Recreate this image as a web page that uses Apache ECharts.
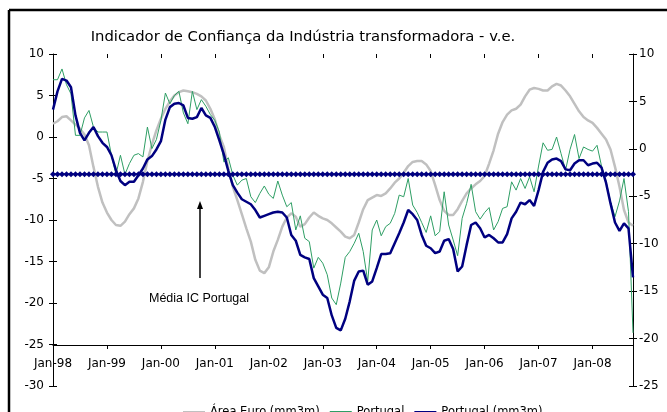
<!DOCTYPE html>
<html>
<head>
<meta charset="utf-8">
<script src="https://cdn.jsdelivr.net/npm/echarts@6/dist/echarts.min.js"></script>
<style>
  html, body { margin: 0; padding: 0; background: #fff; overflow: hidden; }
  #chart { width: 667px; height: 412px; }
</style>
</head>
<body>
<div id="chart"></div>
<script>
// months Jan-98 .. Oct-08
const years = ['98', '99', '00', '01', '02', '03', '04', '05', '06', '07', '08'];
const monthNames = ['Jan', 'Feb', 'Mar', 'Apr', 'May', 'Jun', 'Jul', 'Aug', 'Sep', 'Oct', 'Nov', 'Dec'];
const months = [];
years.forEach(y => monthNames.forEach(m => months.push(m + '-' + y)));
months.length = 130;

// Área Euro (mm3m)
const areaEuro = [
  1.6, 1.9, 2.4, 2.5, 2.0, 1.5, 1.0, 0.3, -1.0, -3.6, -6.0, -7.9,
  -9.1, -10.0, -10.6, -10.7, -10.2, -9.3, -8.6, -7.4, -5.4, -2.9, -0.9, 0.8,
  2.2, 3.4, 4.3, 5.0, 5.4, 5.6, 5.5, 5.4, 5.2, 4.9, 4.4, 3.4,
  2.1, 0.2, -1.2, -3.8, -6.0, -7.6, -9.3, -11.0, -12.6, -14.8, -16.1, -16.4,
  -15.7, -13.8, -12.4, -10.8, -9.7, -9.2, -9.6, -10.8, -10.5, -9.7, -9.1, -9.5,
  -9.8, -10.0, -10.4, -10.9, -11.4, -12.0, -12.2, -11.8, -10.3, -8.7, -7.6, -7.3,
  -7.0, -7.1, -6.8, -6.2, -5.5, -5.0, -4.3, -3.5, -3.0, -2.9, -2.9, -3.3,
  -4.1, -5.8, -7.6, -8.9, -9.4, -9.4, -8.7, -7.7, -6.8, -6.2, -5.7, -5.3,
  -4.7, -3.2, -1.6, 0.4, 1.8, 2.7, 3.2, 3.4, 3.9, 4.9, 5.7, 5.9,
  5.8, 5.6, 5.6, 6.1, 6.4, 6.2, 5.6, 4.9, 4.0, 3.1, 2.4, 2.0,
  1.7, 1.1, 0.4, -0.3, -1.5, -3.6, -6.0, -8.8, -10.3, -10.7
];

// Portugal (monthly)
const portugal = [
  6.9, 6.9, 8.2, 6.3, 5.2, 0.2, 0.2, 2.3, 3.2, 1.2, 0.6, 0.6,
  0.6, -2.2, -4.5, -2.2, -4.5, -3.2, -2.2, -2.0, -2.4, 1.2, -1.4, -0.3,
  2.0, 5.3, 4.0, 5.0, 5.5, 2.9, 1.6, 5.5, 3.3, 4.5, 3.7, 2.7,
  2.0, 0.6, -3.0, -2.5, -4.6, -5.8, -5.2, -5.0, -7.2, -7.9, -6.8, -5.9,
  -6.9, -7.4, -5.3, -7.0, -8.4, -7.9, -11.2, -9.5, -12.2, -12.6, -15.8, -14.5,
  -15.2, -16.6, -19.4, -20.2, -17.6, -14.5, -13.8, -12.8, -11.6, -13.8, -17.4, -11.2,
  -10.0, -11.9, -10.8, -10.4, -9.2, -7.0, -7.2, -5.0, -8.2, -9.1, -10.3, -11.5,
  -9.5, -11.9, -11.4, -6.6, -10.6, -12.4, -14.3, -9.8, -8.0, -5.7, -9.0, -9.9,
  -9.1, -8.5, -11.2, -10.2, -8.6, -8.4, -5.4, -6.4, -5.0, -6.2, -4.8, -6.6,
  -3.5, -0.7, -1.6, -1.5, 0.0, -2.0, -4.0, -1.5, 0.3, -2.6, -1.2, -1.5,
  -1.7, -1.0, -3.5, -5.3, -7.8, -9.6, -7.7, -5.0, -9.0, -23.6
];

// Portugal (mm3m)
const portugalMm3m = [
  3.3, 5.5, 7.0, 6.8, 6.0, 2.6, 0.5, -0.4, 0.5, 1.2, 0.1, -0.7,
  -1.2, -2.2, -4.0, -5.3, -5.8, -5.4, -5.4, -4.6, -3.8, -2.7, -2.3, -1.5,
  -0.5, 2.1, 3.6, 4.0, 4.1, 3.8, 2.3, 2.2, 2.4, 3.5, 2.6, 2.3,
  1.2, -0.4, -2.1, -4.1, -5.8, -6.7, -7.5, -7.8, -8.1, -8.8, -9.7, -9.5,
  -9.3, -9.1, -9.0, -9.1, -9.7, -11.8, -12.5, -14.2, -14.5, -14.7, -17.0, -18.0,
  -19.0, -19.4, -21.5, -23.0, -23.3, -21.9, -19.8, -17.3, -16.2, -16.1, -17.8, -17.4,
  -15.8, -14.1, -14.1, -14.0, -12.8, -11.6, -10.3, -8.8, -9.3, -10.0, -11.8, -13.1,
  -13.4, -14.0, -13.8, -12.5, -12.3, -13.5, -16.2, -15.6, -13.0, -10.6, -10.3, -11.0,
  -12.1, -11.8, -12.2, -12.7, -12.7, -11.7, -9.8, -9.0, -7.9, -8.1, -7.6, -8.3,
  -6.4, -4.2, -3.1, -2.7, -2.6, -2.9, -3.9, -4.0, -3.2, -2.8, -2.8, -3.4,
  -3.2, -3.1, -3.7, -5.5, -8.0, -10.3, -11.3, -10.4, -11.0, -16.9
];

// Média IC Portugal
const mediaIC = -4.5;
const media = months.map(() => mediaIC);

const leftTicks = { min: -30, max: 10, interval: 5 };
const rightTicks = { min: -25, max: 10, interval: 5 };

const axisFont = { fontFamily: 'DejaVu Sans', fontSize: 12, color: '#000' };
const blackLine = { show: true, lineStyle: { color: '#000', width: 1 } };

const chart = echarts.init(document.getElementById('chart'));
chart.setOption({
  animation: false,
  title: {
    text: 'Indicador de Confiança da Indústria transformadora - v.e.',
    left: 298,
    top: 25,
    textAlign: 'center',
    textStyle: { fontFamily: 'DejaVu Sans', fontSize: 14.8, fontWeight: 'normal', color: '#000' }
  },
  legend: {
    data: ['Área Euro (mm3m)', 'Portugal', 'Portugal (mm3m)'],
    left: 177,
    top: 401,
    itemWidth: 22,
    itemHeight: 8,
    itemGap: 9,
    itemStyle: { color: 'rgba(0,0,0,0)', borderWidth: 0 },
    textStyle: { fontFamily: 'DejaVu Sans', fontSize: 11.5, color: '#000' }
  },
  grid: [
    { left: 53, right: 34, top: 54, bottom: 26 },
    { left: 53, right: 34, top: 54, height: 291 }
  ],
  xAxis: [
    { gridIndex: 0, type: 'category', data: months, boundaryGap: false, show: false },
    {
      gridIndex: 1, type: 'category', data: months, boundaryGap: false,
      axisLine: blackLine,
      axisTick: { show: true, interval: 11, length: 4, lineStyle: { color: '#000' } },
      axisLabel: { interval: 11, margin: 13, ...axisFont },
      splitLine: { show: false }
    },
    {
      gridIndex: 1, type: 'category', data: months, boundaryGap: false,
      axisLine: { show: false },
      axisTick: { show: true, inside: true, interval: 11, length: 4, lineStyle: { color: '#000' } },
      axisLabel: { show: false },
      splitLine: { show: false }
    }
  ],
  yAxis: [
    {
      gridIndex: 0, type: 'value', position: 'left', ...leftTicks,
      axisLine: blackLine,
      axisTick: { show: true, length: 4, lineStyle: { color: '#000' } },
      axisLabel: { margin: 9, ...axisFont },
      splitLine: { show: false }
    },
    {
      gridIndex: 0, type: 'value', position: 'right', ...rightTicks,
      axisLine: blackLine,
      axisTick: { show: true, length: 4, lineStyle: { color: '#000' } },
      axisLabel: { margin: 6, ...axisFont },
      splitLine: { show: false }
    },
    {
      gridIndex: 0, type: 'value', position: 'left', ...leftTicks,
      axisLine: { show: false },
      axisTick: { show: true, inside: true, length: 4, lineStyle: { color: '#000' } },
      axisLabel: { show: false },
      splitLine: { show: false }
    },
    {
      gridIndex: 0, type: 'value', position: 'right', ...rightTicks,
      axisLine: { show: false },
      axisTick: { show: true, inside: true, length: 4, lineStyle: { color: '#000' } },
      axisLabel: { show: false },
      splitLine: { show: false }
    },
    { gridIndex: 1, type: 'value', min: 0, max: 1, show: false }
  ],
  series: [
    {
      name: 'Área Euro (mm3m)', type: 'line', data: areaEuro,
      xAxisIndex: 0, yAxisIndex: 0, symbol: 'none',
      lineStyle: { color: '#c0c0c0', width: 2.5 }, itemStyle: { color: '#c0c0c0' }
    },
    {
      name: 'Portugal', type: 'line', data: portugal,
      xAxisIndex: 0, yAxisIndex: 0, symbol: 'none',
      lineStyle: { color: '#2e9e64', width: 1 }, itemStyle: { color: '#2e9e64' }
    },
    {
      name: 'Portugal (mm3m)', type: 'line', data: portugalMm3m,
      xAxisIndex: 0, yAxisIndex: 0, symbol: 'none',
      lineStyle: { color: '#000080', width: 2.5 }, itemStyle: { color: '#000080' }
    },
    {
      name: 'Média IC Portugal', type: 'line', data: media,
      xAxisIndex: 0, yAxisIndex: 0, symbol: 'diamond', symbolSize: 6,
      showSymbol: true, showAllSymbol: true,
      lineStyle: { color: '#000080', width: 2 }, itemStyle: { color: '#000080' }
    }
  ],
  graphic: [
    {
      type: 'line', silent: true,
      shape: { x1: 9, y1: 10, x2: 667, y2: 10 },
      style: { stroke: '#000', lineWidth: 2.5 }
    },
    {
      type: 'line', silent: true,
      shape: { x1: 9, y1: 10, x2: 9, y2: 412 },
      style: { stroke: '#000', lineWidth: 2.5 }
    },
    {
      type: 'line', silent: true,
      shape: { x1: 200, y1: 278, x2: 200, y2: 207 },
      style: { stroke: '#000', lineWidth: 1.5 }
    },
    {
      type: 'polygon', silent: true,
      shape: { points: [[200, 201], [197, 209], [203, 209]] },
      style: { fill: '#000' }
    },
    {
      type: 'text', silent: true, x: 199, y: 299,
      style: {
        text: 'Média IC Portugal', fill: '#000',
        font: '12.5px "Liberation Sans", Arial, sans-serif',
        textAlign: 'center', textVerticalAlign: 'middle'
      }
    }
  ]
});
</script>
</body>
</html>
